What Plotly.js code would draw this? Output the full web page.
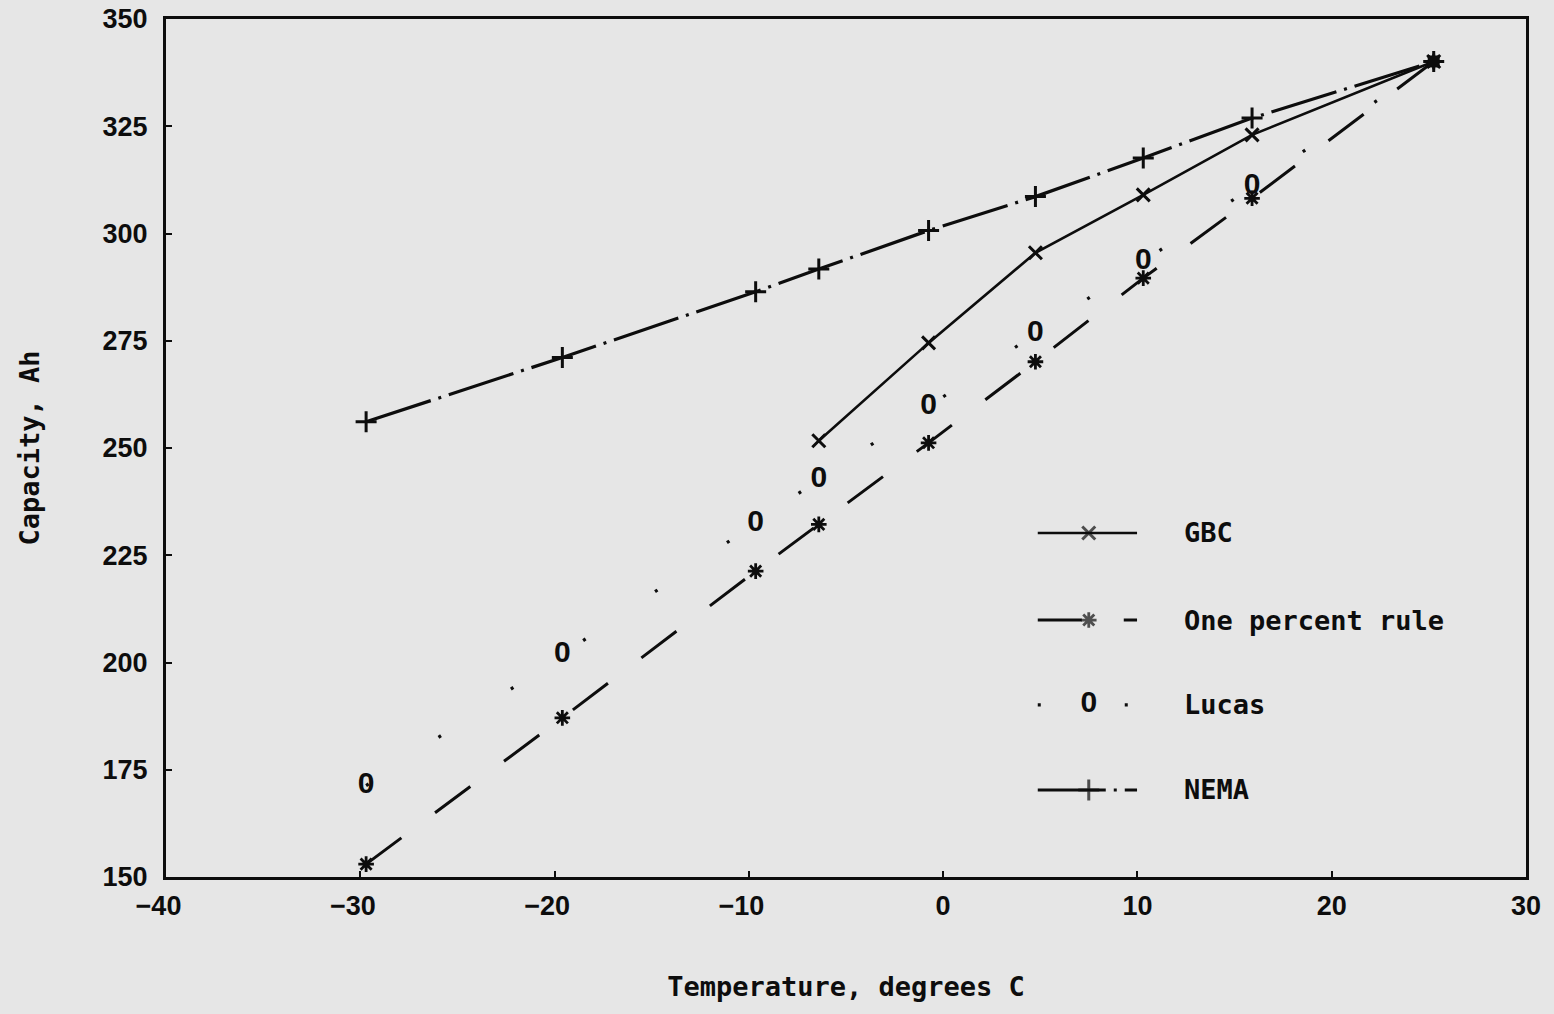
<!DOCTYPE html>
<html>
<head>
<meta charset="utf-8">
<script src="https://cdn.plot.ly/plotly-3.0.1.min.js"></script>
<style>
  html, body { margin: 0; padding: 0; background: #e6e6e6; }
  #chart { width: 1554px; height: 1014px; }
</style>
</head>
<body>
<div id="chart"></div>
<script>
// Battery capacity (Ah) against temperature (deg C) for four estimation methods.
const temperatures = [-29.7, -19.6, -9.65, -6.4, -0.75, 4.75, 10.3, 15.9, 25.25];
const gbcTemperatures = [-6.4, -0.75, 4.75, 10.3, 15.9, 25.25];
const gbcCapacity = [251.7, 274.5, 295.5, 309.0, 323.0, 340.1];
const onePercentCapacity = [153.0, 187.1, 221.3, 232.2, 251.2, 270.1, 289.6, 308.2, 340.1];
const lucasCapacity = [171.3, 201.8, 232.5, 242.7, 259.6, 276.7, 293.4, 310.9, 340.1];
const nemaCapacity = [256.1, 271.1, 286.4, 291.7, 300.7, 308.6, 317.6, 326.9, 340.1];

const seriesNames = ['GBC', 'One percent rule', 'Lucas', 'NEMA'];
const xTickValues = [-40, -30, -20, -10, 0, 10, 20, 30];
const xTickLabels = ['\u221240', '\u221230', '\u221220', '\u221210', '0', '10', '20', '30'];
const yTickValues = [150, 175, 200, 225, 250, 275, 300, 325, 350];
const yTickLabels = ['150', '175', '200', '225', '250', '275', '300', '325', '350'];
const xTitle = 'Temperature, degrees C';
const yTitle = 'Capacity, Ah';

const ink = '#0d0d0d';
const paper = '#e6e6e6';
const plotterFont = { family: 'DejaVu Sans Mono, monospace', size: 27, weight: 'bold', color: ink };
const tickFont = { family: 'Liberation Sans, Arial, sans-serif', size: 27, weight: 'bold', color: ink };
const lucasGlyph = { family: 'Liberation Sans, Arial, sans-serif', size: 30, weight: 'bold', color: ink };

// Line and marker styles for each method
const styles = {
  gbc:  { line: { color: ink, width: 2.6 }, marker: { symbol: 'x-thin', size: 13, line: { width: 3, color: ink } } },
  one:  { line: { color: ink, width: 3, dash: '44px,42px' }, marker: { symbol: 'asterisk-open', size: 13, color: ink, line: { width: 2.8, color: ink } } },
  lucas:{ line: { color: ink, width: 3.2, dash: '3px,84px' } },
  nema: { line: { color: ink, width: 3.2, dash: '68px,8px,3px,8px' }, marker: { symbol: 'cross-thin', size: 15, line: { width: 3, color: ink } } }
};

// Negative labels get a trailing figure space so the digits sit centred on the tick
const xTickText = xTickLabels.map(t => t.startsWith('\u2212') ? t + '\u2007' : t);
const lucasText = lucasCapacity.map((v, i) => i === lucasCapacity.length - 1 ? '' : '0');
const last = temperatures.length - 1;

const traces = [
  Object.assign({ x: temperatures, y: nemaCapacity, mode: 'lines+markers', name: seriesNames[3] }, styles.nema),
  Object.assign({ x: gbcTemperatures, y: gbcCapacity, mode: 'lines+markers', name: seriesNames[0] }, styles.gbc),
  Object.assign({ x: temperatures, y: onePercentCapacity, mode: 'lines+markers', name: seriesNames[1] }, styles.one),
  Object.assign({ x: temperatures, y: lucasCapacity, mode: 'lines+text', name: seriesNames[2],
    text: lucasText, textposition: 'middle center', textfont: lucasGlyph }, styles.lucas),
  // common end point where all four curves meet
  { x: [temperatures[last]], y: [nemaCapacity[last]], mode: 'markers',
    marker: { symbol: 'square', size: 12, color: ink }, hoverinfo: 'skip' }
];

// Key drawn inside the plot area on an overlay axis spanning [0, 1]
const key = { x0: 0.641, x1: 0.714, xm: 0.6785, xText: 0.747, rows: [0.401, 0.2995, 0.2005, 0.1014] };
const keyStyles = [styles.gbc, styles.one, styles.lucas, styles.nema];
seriesNames.forEach((name, i) => {
  const yRow = key.rows[i];
  const t = { x: [key.x0, key.xm, key.x1], y: [yRow, yRow, yRow], xaxis: 'x2', yaxis: 'y2',
    hoverinfo: 'skip', line: keyStyles[i].line };
  if (name === 'Lucas') {
    t.mode = 'lines+text';
    t.text = ['', '0', ''];
    t.textposition = 'middle center';
    t.textfont = lucasGlyph;
  } else {
    t.mode = 'lines+markers';
    t.marker = Object.assign({}, keyStyles[i].marker, { size: [0, keyStyles[i].marker.size, 0] });
  }
  traces.push(t);
});

const annotations = seriesNames.map((name, i) => ({
  xref: 'paper', yref: 'paper', x: key.xText, y: key.rows[i],
  xanchor: 'left', yanchor: 'middle', text: name, showarrow: false, font: plotterFont
}));

const axisCommon = {
  showgrid: false, zeroline: false, showline: true, linecolor: ink, linewidth: 3, mirror: true,
  ticks: 'inside', ticklen: 6, tickwidth: 2, tickcolor: ink, tickfont: tickFont
};

const layout = {
  width: 1554, height: 1014,
  margin: { l: 166, r: 28, t: 19, b: 137 },
  paper_bgcolor: paper, plot_bgcolor: paper,
  showlegend: false,
  xaxis: Object.assign({}, axisCommon, {
    range: [-40, 30], tickmode: 'array', tickvals: xTickValues, ticktext: xTickText,
    ticklabelstandoff: 3,
    title: { text: xTitle, font: plotterFont, standoff: 57 }
  }),
  yaxis: Object.assign({}, axisCommon, {
    range: [150, 350], tickmode: 'array', tickvals: yTickValues, ticktext: yTickLabels,
    ticklabelstandoff: 10,
    title: { text: yTitle, font: plotterFont, standoff: 56 }
  }),
  xaxis2: { overlaying: 'x', range: [0, 1], visible: false, fixedrange: true },
  yaxis2: { overlaying: 'y', range: [0, 1], visible: false, fixedrange: true },
  annotations: annotations
};

Plotly.newPlot('chart', traces, layout, { displayModeBar: false, staticPlot: true });
</script>
</body>
</html>
